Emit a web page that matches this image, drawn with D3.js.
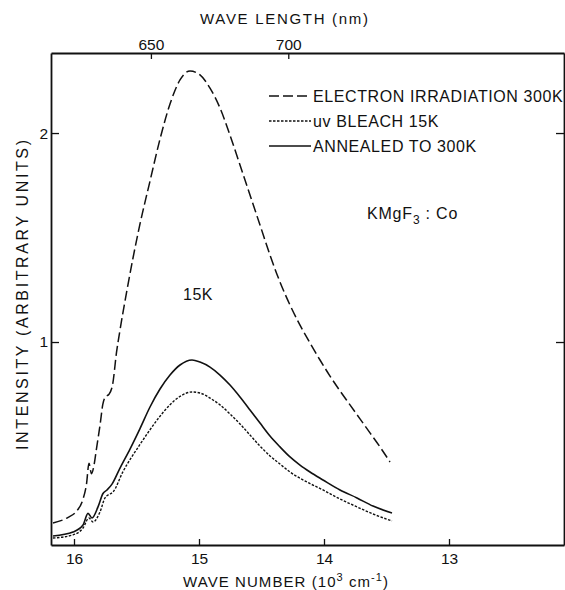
<!DOCTYPE html>
<html>
<head>
<meta charset="utf-8">
<script src="https://cdn.jsdelivr.net/npm/d3@7"></script>
<style>
  body { margin: 0; background: #fff; }
  text { font-family: "Liberation Sans", Arial, sans-serif; fill: #111; }
</style>
</head>
<body>
<svg id="chart" width="565" height="590"></svg>
<script>
// wave number (10^3 cm^-1), intensity (arb. units)
const electron = [
  [16.168, 0.134], [16.05, 0.16], [15.98, 0.19], [15.93, 0.244], [15.90, 0.32],
  [15.88, 0.42], [15.86, 0.37], [15.84, 0.41], [15.82, 0.49], [15.79, 0.61],
  [15.77, 0.70], [15.75, 0.737], [15.72, 0.75], [15.69, 0.80], [15.66, 0.95],
  [15.632, 1.057], [15.576, 1.249], [15.528, 1.402], [15.472, 1.565], [15.392, 1.77],
  [15.312, 1.971], [15.232, 2.139], [15.152, 2.254], [15.072, 2.297], [14.992, 2.278],
  [14.912, 2.215], [14.832, 2.12], [14.752, 1.99], [14.672, 1.847], [14.592, 1.703],
  [14.512, 1.56], [14.432, 1.416], [14.352, 1.287], [14.272, 1.177], [14.192, 1.081],
  [14.112, 0.995], [14.032, 0.914], [13.952, 0.837], [13.872, 0.766], [13.792, 0.699],
  [13.712, 0.632], [13.632, 0.565], [13.552, 0.498], [13.472, 0.426]
]
const uvBleach = [
  [16.168, 0.062], [16.008, 0.077], [15.928, 0.11], [15.88, 0.158], [15.848, 0.139],
  [15.792, 0.187], [15.752, 0.254], [15.728, 0.268], [15.688, 0.282], [15.608, 0.38],
  [15.472, 0.51], [15.392, 0.58], [15.312, 0.645], [15.232, 0.70], [15.152, 0.74],
  [15.056, 0.761], [14.992, 0.756], [14.912, 0.732], [14.832, 0.699], [14.752, 0.656],
  [14.672, 0.608], [14.592, 0.555], [14.512, 0.502], [14.432, 0.455], [14.352, 0.416],
  [14.272, 0.378], [14.136, 0.33], [14.008, 0.292], [13.872, 0.249], [13.736, 0.211],
  [13.608, 0.177], [13.456, 0.144]
]
const annealed = [
  [16.168, 0.072], [16.008, 0.091], [15.928, 0.124], [15.888, 0.18], [15.856, 0.158],
  [15.808, 0.211], [15.768, 0.275], [15.736, 0.292], [15.696, 0.32], [15.632, 0.397],
  [15.552, 0.488], [15.472, 0.586], [15.392, 0.689], [15.312, 0.775], [15.232, 0.842],
  [15.152, 0.89], [15.056, 0.914], [14.992, 0.904], [14.912, 0.88], [14.832, 0.842],
  [14.752, 0.794], [14.672, 0.737], [14.592, 0.675], [14.512, 0.612], [14.432, 0.55],
  [14.352, 0.498], [14.272, 0.45], [14.192, 0.411], [14.112, 0.378], [14.008, 0.34],
  [13.872, 0.292], [13.736, 0.254], [13.608, 0.215], [13.456, 0.182]
]

const waveNumberTicks = [16, 15, 14, 13]
const wavelengthTicks = [650, 700]
const intensityTicks = [1, 2]
const legendLabels = ["ELECTRON IRRADIATION 300K", "uv BLEACH 15K", "ANNEALED TO 300K"]

const padL = 51, padR = 564, padT = 53, padB = 545

const svg = d3.select("#chart")

const x = d3.scaleLinear().domain([16.184, 12.08]).range([padL, padR])
const y = d3.scaleLinear().domain([0.0287, 2.383]).range([padB, padT])

// frame + ticks, all ticks point inward
const xBottom = d3.axisBottom(x).tickValues(waveNumberTicks).tickSize(-6).tickSizeOuter(0).tickPadding(8).tickFormat(d3.format("d"))
const xTop = d3.axisTop(x)
  .tickValues(wavelengthTicks.map(l => 1e4 / l))
  .tickSize(-6).tickSizeOuter(0).tickPadding(3)
  .tickFormat((d, i) => wavelengthTicks[i])
const yLeft = d3.axisLeft(y).tickValues(intensityTicks).tickSize(-8).tickSizeOuter(0).tickPadding(3).tickFormat(d3.format("d"))
const yRight = d3.axisRight(y).tickValues(intensityTicks).tickSize(-8).tickSizeOuter(0).tickFormat("")

function styleAxis(g) {
  g.select(".domain").attr("stroke", "#111").attr("stroke-width", 1.8)
  g.selectAll(".tick line").attr("stroke", "#111").attr("stroke-width", 1.3)
  g.selectAll(".tick text").attr("fill", "#111").style("font-size", "15.5px")
    .style("font-family", '"Liberation Sans", Arial, sans-serif')
}

svg.append("g").attr("transform", `translate(0,${padB})`).call(xBottom).call(styleAxis)
svg.append("g").attr("transform", `translate(0,${padT})`).call(xTop).call(styleAxis)
svg.append("g").attr("transform", `translate(${padL},0)`).call(yLeft).call(styleAxis)
svg.append("g").attr("transform", `translate(${padR},0)`).call(yRight).call(styleAxis)

// curves
let line = d3.line()
  .x(d => x(d[0]))
  .y(d => y(d[1]))
  .curve(d3.curveMonotoneX)

const series = [
  {data: electron, dash: "10,4", width: 1.5},
  {data: uvBleach, dash: "2.5,1.5", width: 1.4},
  {data: annealed, dash: null, width: 1.6}
]

series.forEach(s => {
  svg.append("path")
    .datum(s.data)
    .attr("fill", "none")
    .attr("stroke", "#111")
    .attr("stroke-width", s.width)
    .attr("stroke-dasharray", s.dash)
    .attr("stroke-linejoin", "round")
    .attr("d", line)
})

// legend
const legendY = [96, 121, 146]
series.forEach((s, i) => {
  svg.append("line")
    .attr("x1", 269).attr("x2", 311)
    .attr("y1", legendY[i]).attr("y2", legendY[i])
    .attr("stroke", "#111")
    .attr("stroke-width", s.width)
    .attr("stroke-dasharray", s.dash)
  svg.append("text")
    .attr("x", 313).attr("y", legendY[i] + 6)
    .style("font-size", "16px").style("letter-spacing", "0.6px")
    .text(legendLabels[i])
})

// annotations
const kmg = svg.append("text").attr("x", 367).attr("y", 219)
  .style("font-size", "16px").style("letter-spacing", "0.8px")
kmg.append("tspan").text("KMgF")
kmg.append("tspan").attr("dy", 5).style("font-size", "12px").text("3")
kmg.append("tspan").attr("dy", -5).text("  :  Co")

svg.append("text").attr("x", 183).attr("y", 300)
  .style("font-size", "16px").style("letter-spacing", "0.5px").text("15K")

// axis titles
svg.append("text").attr("x", 200).attr("y", 24)
  .attr("textLength", 168).attr("lengthAdjust", "spacing")
  .style("font-size", "15px").text("WAVE LENGTH (nm)")

const xt = svg.append("text").attr("x", 183).attr("y", 587)
  .attr("textLength", 205).attr("lengthAdjust", "spacing")
  .style("font-size", "15px")
xt.append("tspan").text("WAVE NUMBER (10")
xt.append("tspan").attr("dy", -6).style("font-size", "11px").text("3")
xt.append("tspan").attr("dy", 6).text(" cm")
xt.append("tspan").attr("dy", -6).style("font-size", "11px").text("-1")
xt.append("tspan").attr("dy", 6).text(")")

svg.append("text")
  .attr("transform", "translate(28,450) rotate(-90)")
  .attr("textLength", 310).attr("lengthAdjust", "spacing")
  .style("font-size", "16px")
  .text("INTENSITY (ARBITRARY UNITS)")
</script>
</body>
</html>
